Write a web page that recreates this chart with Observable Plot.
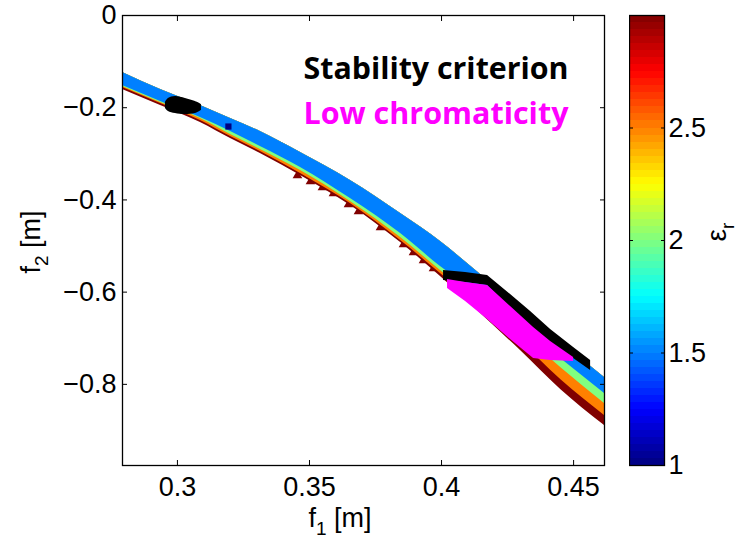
<!DOCTYPE html>
<html><head><meta charset="utf-8">
<script src="https://cdn.jsdelivr.net/npm/d3@7"></script>
<script src="https://cdn.jsdelivr.net/npm/@observablehq/plot@0.6"></script>
<style>
body{margin:0;background:#fff;}
#wrap{position:relative;width:749px;height:548px;overflow:hidden;}
#main{position:absolute;left:0;top:0;}
#cbar{position:absolute;left:629px;top:0;}
</style></head><body><div id="wrap"><div id="main"></div><div id="cbar"></div></div>
<script>
// ---- data ----
const f1 = [0.2792, 0.2936, 0.3087, 0.3201, 0.3314, 0.3466, 0.3655, 0.3845, 0.3996, 0.4148, 0.4299, 0.4451, 0.4617];
const topEdge   = [-0.1236, -0.1605, -0.1952, -0.2234, -0.2516, -0.2972, -0.3579, -0.4295, -0.4902, -0.5618, -0.6312, -0.7072, -0.7852];
const edgeEps15 = [-0.1518, -0.1866, -0.2213, -0.2516, -0.2842, -0.3297, -0.3970, -0.4729, -0.5445, -0.6074, -0.6725, -0.7440, -0.8200];
const edgeEps20 = [-0.1540, -0.1887, -0.2234, -0.2581, -0.2907, -0.3362, -0.4035, -0.4816, -0.5531, -0.6204, -0.6876, -0.7636, -0.8416];
const edgeEps25 = [-0.1562, -0.1909, -0.2278, -0.2625, -0.2950, -0.3427, -0.4078, -0.4881, -0.5597, -0.6334, -0.7072, -0.7896, -0.8677];
const edgeEps30 = [-0.1605, -0.1952, -0.2321, -0.2668, -0.2993, -0.3471, -0.4121, -0.4924, -0.5662, -0.6464, -0.7267, -0.8113, -0.8894];
const epsLevels = [3, 2.5, 2, 1.5];
const epsEdges = [edgeEps30, edgeEps25, edgeEps20, edgeEps15];

// isolated eps_r = 3 markers along the lower edge
const triF1 = [0.34545, 0.35038, 0.35492, 0.35909, 0.36477, 0.36856, 0.37689, 0.38561, 0.38939, 0.39318, 0.39697];
const triF2 = [-0.3471, -0.3601, -0.3731, -0.3862, -0.4100, -0.4252, -0.4599, -0.4968, -0.5141, -0.5315, -0.5488];

// single eps_r = 1 point
const lowEpsF1 = [0.3193];
const lowEpsF2 = [-0.2408];

// stability criterion: small cluster (upper left)
const blobF1 = [0.29545, 0.29659, 0.29924, 0.30303, 0.30682, 0.30909];
const blobTop = [-0.1887, -0.1800, -0.1757, -0.1800, -0.1866, -0.1931];
const blobBottom = [-0.2017, -0.2082, -0.2126, -0.2148, -0.2126, -0.2061];

// stability criterion: strip (lower right)
const stabF1 = [0.40076, 0.40909, 0.41742, 0.42614, 0.43371, 0.44129, 0.45, 0.45644];
const stabTop = [-0.5531, -0.5575, -0.5640, -0.6052, -0.6421, -0.6811, -0.7202, -0.7484];
const stabBottom = [-0.5748, -0.5792, -0.5857, -0.6356, -0.6768, -0.7115, -0.7440, -0.7701];

// low chromaticity region
const chromF1 = [0.40227, 0.40909, 0.41742, 0.42614, 0.43485, 0.44129, 0.45];
const chromTop = [-0.5727, -0.5792, -0.5857, -0.6312, -0.6768, -0.7072, -0.7419];
const chromBottom = [-0.5922, -0.6204, -0.6594, -0.7028, -0.7440, -0.7484, -0.7505];

const xTicks = [0.3, 0.35, 0.4, 0.45];
const yTicks = [0, -0.2, -0.4, -0.6, -0.8];
const cbTicks = [1, 1.5, 2, 2.5];
const annotations = ["Stability criterion", "Low chromaticity"];
const annotationColors = ["#000000", "#ff00ff"];

// ---- jet colormap ----
const jet = t => {
  const c = v => Math.max(0, Math.min(1, v));
  return d3.rgb(255 * c(Math.min(4 * t - 1.5, -4 * t + 4.5)),
                255 * c(Math.min(4 * t - 0.5, -4 * t + 3.5)),
                255 * c(Math.min(4 * t + 0.5, -4 * t + 2.5))).formatHex();
};
const colorScale = {type: "linear", domain: [1, 3], interpolate: jet};
const font = "Liberation Sans, Arial, sans-serif";

const bands = epsLevels.map((e, k) => f1.map((x, i) => ({f1: x, top: topEdge[i], bottom: epsEdges[k][i], eps: e})));
const tris = triF1.map((x, i) => ({f1: x, f2: triF2[i], eps: 3}));
const lowEps = lowEpsF1.map((x, i) => ({f1: x, f2: lowEpsF2[i], eps: 1}));
const blob = blobF1.map((x, i) => ({f1: x, top: blobTop[i], bottom: blobBottom[i]}));
const stab = stabF1.map((x, i) => ({f1: x, top: stabTop[i], bottom: stabBottom[i]}));
const chrom = chromF1.map((x, i) => ({f1: x, top: chromTop[i], bottom: chromBottom[i]}));

const main = Plot.plot({
  width: 615, height: 548,
  marginLeft: 122, marginRight: 11, marginTop: 15, marginBottom: 83,
  x: {domain: [0.2792, 0.4617]},
  y: {domain: [-0.976, 0]},
  color: colorScale,
  style: {fontFamily: font, fontSize: "27px", color: "#000", background: "#fff"},
  marks: [
    Plot.dot(tris, {x: "f1", y: "f2", fill: "eps", symbol: "triangle", r: 3.6}),
    ...bands.map(b => Plot.areaY(b, {x: "f1", y1: "top", y2: "bottom", fill: "eps", curve: "monotone-x", clip: true})),
    Plot.dot(lowEps, {x: "f1", y: "f2", fill: "eps", symbol: "square", r: 3.5}),
    Plot.areaY(blob, {x: "f1", y1: "top", y2: "bottom", fill: "#000", curve: "catmull-rom"}),
    Plot.areaY(stab, {x: "f1", y1: "top", y2: "bottom", fill: "#000", curve: "linear"}),
    Plot.areaY(chrom, {x: "f1", y1: "top", y2: "bottom", fill: "#ff00ff", curve: "linear"}),
    Plot.text([annotations[0]], {frameAnchor: "top-right", text: d => d, dx: -36, dy: 63, lineAnchor: "bottom", textAnchor: "end",
      fill: annotationColors[0], fontWeight: "bold", fontSize: 30, fontFamily: "Open Sans"}),
    Plot.text([annotations[1]], {frameAnchor: "top-right", text: d => d, dx: -36, dy: 108, lineAnchor: "bottom", textAnchor: "end",
      fill: annotationColors[1], fontWeight: "bold", fontSize: 30, fontFamily: "Open Sans"}),
    Plot.axisX({anchor: "bottom", ticks: xTicks, tickSize: -5, tickPadding: 16, tickFormat: d => String(d), label: null}),
    Plot.axisX({anchor: "top", ticks: xTicks, tickSize: -5, tickFormat: () => "", label: null}),
    Plot.axisY({anchor: "left", ticks: yTicks, tickSize: -5, tickPadding: 11, tickFormat: d => d === 0 ? "0" : "\u2212" + String(-d), label: null}),
    Plot.axisY({anchor: "right", ticks: yTicks, tickSize: -5, tickFormat: () => "", label: null}),
    Plot.frame({stroke: "#000", strokeWidth: 1.3})
  ]
});
document.getElementById("main").appendChild(main);

const ms = d3.select(main);
// fit annotation widths to the reference
ms.selectAll("text").filter(function() { return annotations.includes(this.textContent); })
  .attr("textLength", 265).attr("lengthAdjust", "spacingAndGlyphs");

// axis titles with subscripts
const xl = ms.append("text").attr("x", 340).attr("y", 527).attr("fill", "#000").style("font-family", font).style("font-size", "27px");
xl.append("tspan").text("f");
xl.append("tspan").attr("dy", 8).style("font-size", "19px").text("1");
xl.append("tspan").attr("dy", -8).text(" [m]");
const yl = ms.append("text").attr("transform", "translate(40,242) rotate(-90)").attr("text-anchor", "middle").attr("fill", "#000").style("font-family", font).style("font-size", "27px");
yl.append("tspan").text("f");
yl.append("tspan").attr("dy", 8).style("font-size", "19px").text("2");
yl.append("tspan").attr("dy", -8).text(" [m]");

// ---- colorbar ----
const nLev = 64;
const cbLevels = d3.range(nLev).map(i => ({y1: 1 + 2 * i / nLev, y2: 1 + 2 * (i + 1) / nLev, c: 1 + 2 * (i + 0.5) / nLev}));
const cb = Plot.plot({
  width: 120, height: 548,
  marginLeft: 0, marginRight: 85, marginTop: 15, marginBottom: 83,
  y: {domain: [1, 3]},
  color: colorScale,
  style: {fontFamily: font, fontSize: "27px", color: "#000", background: "transparent"},
  marks: [
    Plot.rect(cbLevels, {y1: "y1", y2: "y2", fill: "c", shapeRendering: "crispEdges"}),
    Plot.axisY({anchor: "right", ticks: cbTicks, tickSize: -4, tickPadding: 8, tickFormat: d => String(d), label: null}),
    Plot.axisY({anchor: "left", ticks: cbTicks, tickSize: -4, tickFormat: () => "", label: null}),
    Plot.frame({stroke: "#000", strokeWidth: 1.3})
  ]
});
document.getElementById("cbar").appendChild(cb);
const el = d3.select(cb).append("text").attr("transform", "translate(97,232) rotate(-90)").attr("text-anchor", "middle").attr("fill", "#000").style("font-family", font).style("font-size", "28px");
el.append("tspan").text("\u03b5");
el.append("tspan").attr("dy", 8).style("font-size", "19px").text("r");
</script></body></html>
